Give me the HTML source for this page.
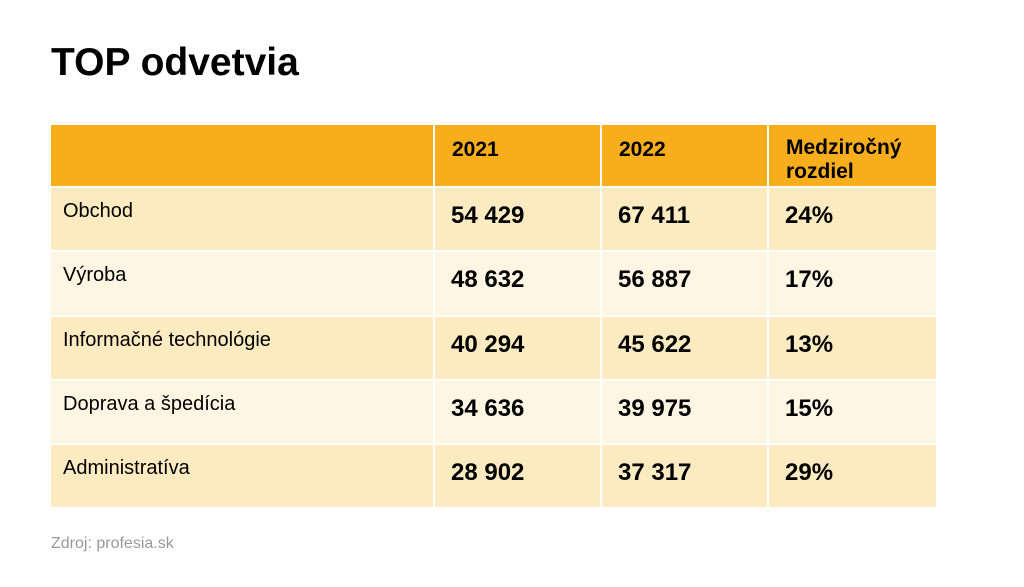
<!DOCTYPE html>
<html><head><meta charset="utf-8"><style>
body{margin:0;width:1024px;height:587px;background:#fff;position:relative;font-family:"Liberation Sans",sans-serif;overflow:hidden}
.t{position:absolute;left:51px;top:41px;font-size:39px;font-weight:bold;color:#000}
.c{position:absolute;box-sizing:border-box;padding-left:12px}
.h{background:#F8AE1C;font-weight:bold;font-size:21px;padding-top:13px;line-height:24px}
.o{background:#FCEBC0}.e{background:#FEF6E2}
.l{font-size:20px;padding-top:12px}
.n{font-size:24px;font-weight:bold;padding-top:14px;padding-left:16px}
.s{position:absolute;left:51px;top:535px;font-size:16px;color:#999}
</style></head><body>
<div class="t">TOP odvetvia</div>
<div class="c h" style="left:51px;top:125px;width:382px;height:61px"></div>
<div class="c h" style="left:435px;top:125px;width:165px;height:61px;padding-left:17px">2021</div>
<div class="c h" style="left:602px;top:125px;width:165px;height:61px;padding-left:17px">2022</div>
<div class="c h" style="left:769px;top:125px;width:167px;height:61px;padding-left:17px;padding-top:11px">Medziročný<br>rozdiel</div>
<div class="c o l" style="left:51px;top:188px;width:382px;height:62px">Obchod</div>
<div class="c o n" style="left:435px;top:188px;width:165px;height:62px">54 429</div>
<div class="c o n" style="left:602px;top:188px;width:165px;height:62px">67 411</div>
<div class="c o n" style="left:769px;top:188px;width:167px;height:62px">24%</div>
<div class="c e l" style="left:51px;top:252px;width:382px;height:63px">Výroba</div>
<div class="c e n" style="left:435px;top:252px;width:165px;height:63px">48 632</div>
<div class="c e n" style="left:602px;top:252px;width:165px;height:63px">56 887</div>
<div class="c e n" style="left:769px;top:252px;width:167px;height:63px">17%</div>
<div class="c o l" style="left:51px;top:317px;width:382px;height:62px">Informačné technológie</div>
<div class="c o n" style="left:435px;top:317px;width:165px;height:62px">40 294</div>
<div class="c o n" style="left:602px;top:317px;width:165px;height:62px">45 622</div>
<div class="c o n" style="left:769px;top:317px;width:167px;height:62px">13%</div>
<div class="c e l" style="left:51px;top:381px;width:382px;height:62px">Doprava a špedícia</div>
<div class="c e n" style="left:435px;top:381px;width:165px;height:62px">34 636</div>
<div class="c e n" style="left:602px;top:381px;width:165px;height:62px">39 975</div>
<div class="c e n" style="left:769px;top:381px;width:167px;height:62px">15%</div>
<div class="c o l" style="left:51px;top:445px;width:382px;height:62px">Administratíva</div>
<div class="c o n" style="left:435px;top:445px;width:165px;height:62px">28 902</div>
<div class="c o n" style="left:602px;top:445px;width:165px;height:62px">37 317</div>
<div class="c o n" style="left:769px;top:445px;width:167px;height:62px">29%</div>
<div class="s">Zdroj: profesia.sk</div>
</body></html>
